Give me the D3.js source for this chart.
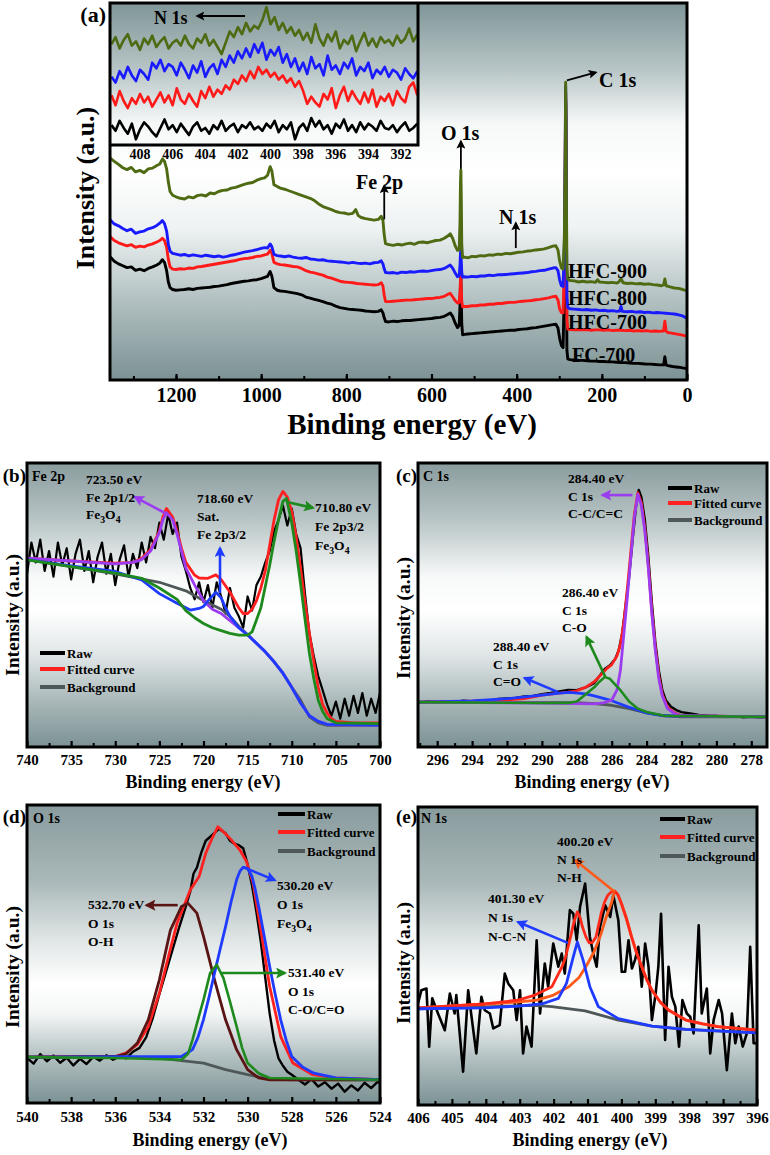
<!DOCTYPE html>
<html><head><meta charset="utf-8">
<script src="https://cdn.jsdelivr.net/npm/d3@7"></script>
<style>
body{margin:0;background:#fff}
svg{display:block}
text{font-family:"Liberation Serif","Times New Roman",serif;font-weight:bold;fill:#000}
</style></head>
<body><svg id="chart" width="770" height="1155"></svg>
<script>
// ---------------- DATA ----------------
// Panel (a) survey spectra: [binding energy eV, intensity a.u.]
const surveyHFC900 = [[1356,59.0],[1345,58.0],[1335,57.2],[1325,56.3],[1315,55.8],[1305,56.4],[1295,55.2],[1285,55.6],[1275,55.0],[1265,56.0],[1255,56.2],[1245,56.9],[1238,57.3],[1232,58.6],[1227,58.0],[1222,56.0],[1218,52.5],[1214,50.0],[1208,49.0],[1200,48.6],[1190,48.2],[1180,48.0],[1170,48.6],[1160,48.3],[1150,48.9],[1140,49.1],[1130,48.8],[1120,49.6],[1110,49.4],[1100,50.0],[1090,50.3],[1080,50.4],[1070,50.9],[1060,51.1],[1050,51.5],[1040,51.9],[1030,52.2],[1020,52.4],[1010,53.0],[1000,53.4],[992,53.6],[985,54.3],[979,56.6],[975,55.5],[970,51.8],[962,51.3],[955,50.9],[945,50.6],[935,50.2],[925,49.8],[915,49.4],[905,49.0],[895,48.6],[885,48.2],[875,47.6],[865,46.7],[855,46.0],[845,45.6],[835,45.2],[825,44.7],[815,44.4],[805,44.3],[795,44.0],[785,44.2],[778,45.2],[772,43.6],[765,43.1],[755,42.8],[745,42.6],[735,42.4],[725,42.6],[718,43.4],[714,42.3],[711,38.5],[708,36.2],[700,35.9],[690,35.7],[680,36.0],[670,35.8],[660,36.1],[650,36.3],[640,36.0],[630,36.5],[620,36.6],[610,36.4],[600,36.7],[590,37.0],[580,37.1],[570,37.6],[562,38.2],[556,38.8],[550,37.5],[544,35.5],[539,34.4],[535,34.6],[533,42.0],[532,52.0],[531,55.7],[530,48.0],[529,36.0],[527,32.5],[522,32.6],[515,32.4],[505,32.8],[495,32.7],[485,33.0],[475,32.9],[465,33.2],[455,33.1],[445,33.4],[435,33.3],[425,33.6],[415,33.5],[405,33.7],[395,33.9],[385,34.0],[375,34.2],[365,34.3],[355,34.5],[345,34.6],[335,34.8],[325,35.1],[315,35.5],[308,35.6],[303,34.5],[299,31.5],[295,29.8],[291,29.4],[288,38.0],[286,62.0],[285,79.0],[284,72.0],[283,45.0],[282,30.0],[280,26.8],[275,26.4],[265,26.3],[255,26.0],[245,26.2],[235,26.0],[225,26.1],[215,25.9],[210,26.6],[206,26.0],[195,25.9],[185,25.8],[175,25.9],[165,25.7],[160,26.0],[155,26.9],[150,25.8],[140,25.6],[130,25.7],[120,25.5],[110,25.6],[100,25.4],[90,25.5],[80,25.3],[70,25.2],[60,25.0],[55,25.2],[52,26.8],[49,25.0],[40,24.7],[30,24.4],[20,24.3],[10,24.0],[4,23.8],[0,23.7]];
const surveyHFC800 = [[1356,42.6],[1345,41.4],[1335,40.9],[1325,40.2],[1315,39.6],[1305,40.0],[1295,38.9],[1285,39.3],[1275,39.5],[1265,40.1],[1255,40.4],[1245,41.0],[1238,41.6],[1232,42.3],[1227,41.5],[1222,39.5],[1218,36.0],[1214,34.2],[1208,33.6],[1200,33.4],[1190,33.1],[1180,33.3],[1170,32.9],[1160,33.2],[1150,33.0],[1140,32.8],[1130,33.1],[1120,32.9],[1110,32.7],[1100,32.9],[1090,32.6],[1080,32.8],[1070,33.1],[1060,33.3],[1050,33.6],[1040,33.9],[1030,34.1],[1020,34.3],[1010,34.6],[1000,34.9],[992,35.1],[985,35.0],[979,36.1],[975,35.4],[970,33.3],[962,33.0],[955,32.9],[945,32.7],[935,32.9],[925,32.6],[915,32.4],[905,32.3],[895,32.5],[885,32.1],[875,32.0],[865,31.8],[855,31.9],[845,31.6],[835,31.5],[825,31.4],[815,31.3],[805,31.2],[795,31.0],[785,31.2],[775,31.0],[765,30.9],[755,31.0],[745,30.8],[735,31.1],[725,31.2],[718,31.6],[714,30.8],[711,29.5],[708,28.5],[700,28.4],[690,28.5],[680,28.3],[670,28.6],[660,28.5],[650,28.7],[640,28.6],[630,28.8],[620,28.9],[610,28.8],[600,29.0],[590,29.2],[580,29.3],[570,29.6],[562,30.1],[556,30.5],[550,29.6],[544,28.3],[539,27.4],[535,27.6],[533,30.5],[532,33.5],[531,34.6],[530,31.5],[529,28.5],[527,27.3],[522,27.4],[515,27.3],[505,27.5],[495,27.4],[485,27.6],[475,27.6],[465,27.8],[455,27.7],[445,27.9],[435,27.9],[425,28.0],[415,28.1],[405,28.2],[395,28.3],[385,28.4],[375,28.5],[365,28.7],[355,28.8],[345,29.0],[335,29.1],[325,29.4],[315,29.7],[308,29.8],[303,29.0],[299,26.5],[295,25.0],[291,24.8],[288,35.0],[286,60.0],[285,78.0],[284,70.0],[283,38.0],[282,22.0],[280,19.2],[275,18.9],[265,18.8],[255,18.7],[245,18.6],[235,18.7],[225,18.5],[215,18.6],[205,18.4],[195,18.5],[185,18.3],[175,18.4],[165,18.2],[158,18.3],[155,19.5],[152,18.2],[140,18.1],[130,18.2],[120,18.0],[110,18.1],[100,17.9],[90,18.0],[80,17.8],[70,17.9],[60,17.8],[50,17.7],[40,17.6],[30,17.5],[20,17.3],[10,17.0],[4,16.6],[0,16.4]];
const surveyHFC700 = [[1356,38.2],[1345,37.0],[1335,36.4],[1325,36.0],[1315,35.6],[1305,35.9],[1295,35.2],[1285,35.5],[1275,35.3],[1265,35.8],[1255,36.1],[1245,36.6],[1238,37.0],[1232,37.6],[1227,37.0],[1222,35.2],[1218,32.0],[1214,30.0],[1208,29.4],[1200,29.3],[1190,29.5],[1180,29.4],[1170,29.7],[1160,29.6],[1150,30.0],[1140,30.1],[1130,30.3],[1120,30.5],[1110,30.7],[1100,30.9],[1090,31.1],[1080,31.3],[1070,31.5],[1060,31.7],[1050,32.0],[1040,32.2],[1030,32.3],[1020,32.5],[1010,32.8],[1000,32.9],[992,33.2],[985,33.4],[979,34.4],[975,33.6],[970,31.2],[962,30.8],[955,30.6],[945,30.5],[935,30.3],[925,30.1],[915,30.0],[905,29.6],[895,29.0],[885,28.6],[875,28.4],[865,28.1],[855,27.8],[845,27.3],[835,27.0],[825,26.6],[815,26.2],[805,26.0],[795,25.9],[785,25.8],[775,25.6],[765,25.5],[755,25.4],[745,25.3],[735,25.2],[725,25.3],[718,25.8],[714,24.9],[711,22.5],[708,20.8],[700,20.8],[690,20.9],[680,21.0],[670,21.1],[660,21.2],[650,21.2],[640,21.3],[630,21.4],[620,21.5],[610,21.6],[600,21.6],[590,21.8],[580,21.9],[570,22.2],[562,22.7],[556,23.0],[550,22.0],[544,21.0],[539,20.4],[535,20.6],[533,23.5],[532,26.5],[531,27.6],[530,24.0],[529,21.0],[527,19.4],[522,19.5],[515,19.5],[505,19.7],[495,19.7],[485,19.9],[475,19.9],[465,20.1],[455,20.1],[445,20.3],[435,20.3],[425,20.5],[415,20.6],[405,20.6],[395,20.8],[385,20.9],[375,21.0],[365,21.1],[355,21.3],[345,21.4],[335,21.6],[325,21.8],[315,22.1],[308,22.2],[303,21.2],[299,18.8],[295,17.9],[291,17.8],[288,30.0],[286,55.0],[285,76.0],[284,66.0],[283,32.0],[282,16.0],[280,13.5],[275,13.4],[265,13.3],[255,13.4],[245,13.3],[235,13.4],[225,13.2],[215,13.3],[205,13.3],[195,13.2],[185,13.3],[175,13.1],[165,13.2],[155,13.2],[145,13.1],[135,13.2],[125,13.0],[115,13.1],[105,13.0],[95,13.1],[85,12.9],[75,13.0],[65,12.9],[58,13.0],[55,13.0],[52,15.6],[49,12.9],[45,12.6],[40,12.5],[30,12.3],[20,12.1],[10,11.9],[4,11.7],[0,11.6]];
const surveyFC700 = [[1356,32.8],[1345,31.5],[1335,30.8],[1325,30.3],[1315,29.8],[1305,30.0],[1295,29.1],[1285,29.4],[1275,29.0],[1265,29.6],[1255,30.0],[1245,30.5],[1238,31.0],[1232,31.9],[1227,31.2],[1222,29.0],[1218,26.0],[1214,24.5],[1208,24.0],[1200,23.8],[1190,23.9],[1180,24.0],[1170,24.2],[1160,24.0],[1150,24.3],[1140,24.4],[1130,24.5],[1120,24.6],[1110,24.8],[1100,24.9],[1090,25.1],[1080,25.3],[1070,25.6],[1060,25.8],[1050,26.0],[1040,26.2],[1030,26.3],[1020,26.5],[1010,26.6],[1000,26.9],[992,27.2],[985,27.5],[979,28.8],[975,27.6],[970,24.5],[962,23.8],[955,23.6],[945,23.5],[935,23.3],[925,23.1],[915,22.9],[905,22.6],[895,22.0],[885,21.7],[875,21.4],[865,21.1],[855,20.8],[845,20.4],[835,20.1],[825,19.6],[815,19.2],[805,19.0],[795,18.8],[785,18.7],[775,18.6],[765,18.5],[755,18.3],[745,18.2],[735,18.1],[725,18.2],[718,18.6],[714,17.8],[711,16.5],[708,15.5],[700,15.4],[690,15.6],[680,15.5],[670,15.7],[660,15.8],[650,15.8],[640,15.9],[630,16.0],[620,16.1],[610,16.2],[600,16.3],[590,16.5],[580,16.6],[570,16.9],[562,17.4],[556,17.8],[550,16.8],[544,15.0],[539,13.9],[535,14.5],[533,20.0],[532,25.0],[531,27.3],[530,22.0],[529,15.0],[527,12.0],[522,12.1],[515,12.2],[505,12.3],[495,12.4],[485,12.5],[475,12.6],[465,12.7],[455,12.8],[445,12.9],[435,13.0],[425,13.1],[415,13.2],[405,13.2],[395,13.4],[385,13.5],[375,13.6],[365,13.8],[355,13.9],[345,14.1],[335,14.3],[325,14.5],[315,14.7],[308,14.8],[303,13.8],[299,11.0],[295,9.2],[291,8.6],[288,25.0],[286,50.0],[285,74.0],[284,60.0],[283,26.0],[282,8.0],[280,5.6],[275,5.4],[265,5.3],[255,5.2],[245,5.2],[235,5.1],[225,5.0],[215,5.0],[205,4.9],[195,4.9],[185,4.8],[175,4.8],[165,4.7],[155,4.6],[145,4.6],[135,4.5],[125,4.4],[115,4.4],[105,4.3],[95,4.2],[85,4.2],[75,4.1],[65,4.0],[58,4.0],[55,4.0],[52,6.2],[49,4.0],[45,3.8],[40,3.7],[30,3.5],[20,3.4],[10,3.2],[4,3.1],[0,3.0]];
const surveySeriesNames = ["FC-700","HFC-700","HFC-800","HFC-900"];
const surveyTicks = [1200,1000,800,600,400,200,0];

// Inset N 1s (sampling every 0.25 eV from 409.75 to 391.0)
const insetStartEV = 409.75, insetStepEV = 0.25;
const insetHFC900 = [71,76,68,74,78,70,73,67,75,71,77,69,73,76,68,72, 74,70,77,71,68,75,72,78,70,74,69, 64,72,80,76,83,78,86,80,84, 82,88,97,85,90,81,86,79, 83,77,81,74,79,72,85,75,70,78,73,80, 68,74,71,77,66,73,79,70,75,69,76,72, 74,70,77,72,75,82,73,78];
const insetHFC800 = [48,44,52,47,55,49,45,53,50,46,58,54,60,52,57,55, 49,58,53,47,56,51,59,48,54,57,50, 60,55,63,58,66,61,68,62,71, 65,72,60,67,63,69,58,64, 55,61,52,58,50,62,54,57,49,63,53,56, 50,58,54,61,49,55,52,58,47,53,50,55, 48,53,51,46,54,50,47,52];
const insetHFC700 = [35,28,38,31,26,33,29,36,30,34,27,32,37,30,35,28, 40,32,29,36,31,27,38,33,41,34,39, 36,42,39,46,43,49,45,52,47, 55,50,53,48,51,46,49,44, 47,41,45,38,29,34,30,27,36,32,40,26, 35,41,31,38,33,29,37,30,39,27,34,31, 36,28,38,33,30,41,44,35];
const insetFC700 = [14,10,17,12,8,15,4,11,16,13,9,6,12,18,11,14, 9,15,11,7,13,16,10,12,8,14,11, 17,10,13,15,9,14,12,16,11, 13,10,15,12,17,9,14,11, 16,4,12,15,10,19,13,17,11,14,8,15, 12,18,10,14,9,16,11,15,13,10,17,12, 11,14,9,13,16,10,12,15];
const insetTicks = [408,406,404,402,400,398,396,394,392];

// Panel (b) Fe 2p
const feRaw = [[740,61],[739.5,72],[739,65],[738.5,73],[738,62],[737.5,69],[737,60],[736.5,72],[736,64],[735.5,70],[735,59],[734.5,68],[734,73],[733.5,62],[733,69],[732.5,58],[732,67],[731.5,72],[731,61],[730.5,68],[730,57],[729.5,66],[729,71],[728.5,60],[728,68],[727.5,63],[727,72],[726.5,65],[726,74],[725.5,70],[725,79],[724.5,73],[724,82],[723.5,75],[723,79],[722.5,67],[722,62],[721.5,56],[721,52],[720.5,58],[720,51],[719.5,57],[719,49],[718.5,58],[718,53],[717.5,47],[717,56],[716.5,49],[716,46],[715.5,42],[715,53],[714.5,48],[714,57],[713.5,60],[713,65],[712.5,69],[712,76],[711.5,80],[711,85],[710.5,78],[710,84],[709.5,75],[709,70],[708.5,54],[708,40],[707.5,32],[707,25],[706.5,20],[706,15],[705.5,11],[705,16],[704.5,10],[704,17],[703.5,11],[703,18],[702.5,12],[702,19],[701.5,11],[701,17],[700.5,12],[700,19]];
const feFit = [[740,66.5],[735,65.5],[730,64.7],[728,65],[727,66.5],[726,69.5],[725,76],[724.6,81],[724.2,84],[723.5,81],[723,76],[722.5,70],[722,65],[721,60.5],[720.5,59.5],[719.5,59.4],[718.6,60.6],[718,59],[717,54.5],[716,49],[715.5,47],[715,47],[714.5,48.5],[714,51.5],[713.5,56],[713,62],[712.5,71],[712,80],[711.5,87],[711,90],[710.5,88],[710,83],[709.5,74],[709,63],[708.5,51],[708,40],[707.5,30],[707,21],[706.5,15],[706,12],[705.5,10],[705,9],[703,8.5],[700,8.5]];
const feBg = [[740,66],[735,63.5],[730,61],[725,58],[722,55],[720,51.6],[718,48.5],[717,46],[716,42.5],[715,39.5],[714,36.5],[713,33.5],[712,30],[711,26],[710,21],[709,16.5],[708,10.6],[707,8.5],[706,7.6],[700,7.6]];
const fe2p12 = [[740,66.5],[735,65.5],[730,64.5],[728,65],[727,66],[726,69],[725,75.5],[724.6,80],[724.2,82.5],[723.5,80],[723,75],[722.5,69],[722,63],[721,57],[720,51.5],[719,48.5],[718,47],[717,44.5],[716,42],[715,39.5],[714,36.5],[713,33.5],[712,30],[711,26],[710,21],[709,15.5],[708,11],[707,9],[706,8],[705,7.8],[700,7.7]];
const feSat = [[740,66],[735,63.8],[730,61.8],[727,58.8],[725,54],[723,50.6],[722,49],[721.5,48.2],[720.5,48.8],[720,49.5],[719.2,52.5],[718.6,54.5],[718,52.5],[717.5,49],[717,46],[716,42],[715,39.5],[714,36.5],[713,33.5],[712,30],[711,26],[710,21],[709,15.5],[708,11],[707,9],[706,8],[700,7.7]];
const fe2p32 = [[740,65.9],[735,63.5],[730,61.2],[727,59.4],[725,56],[723,52],[722,48],[721,45.5],[720,43.5],[719,42],[718,41],[717,40],[716,39.4],[715,39.4],[714.5,40.5],[714,44.7],[713.5,49],[713,56.5],[712.5,64],[712,72.5],[711.5,80],[711,86.5],[710.6,87.5],[710,79],[709.5,69],[709,57.5],[708.5,45],[708,33],[707.5,24],[707,16.5],[706.5,12.5],[706,10],[705,8.5],[700,8.2]];
const feTicks = [740,735,730,725,720,715,710,705,700];

// Panel (c) C 1s
const cRaw = [[297.1,15.6],[296.5,16.0],[296,15.7],[295.5,16.1],[295,15.8],[294.5,16.3],[294,16.0],[293.5,16.5],[293,16.3],[292.5,16.9],[292,17.1],[291.5,17.3],[291,17.8],[290.5,18.0],[290,18.6],[289.5,19.0],[289,19.6],[288.5,20.1],[288,20.0],[287.5,21.0],[287,22.5],[286.7,25],[286.4,27.5],[286.1,28.8],[285.8,31],[285.6,34],[285.4,40],[285.2,50],[285,60],[284.8,73],[284.6,85],[284.45,90.5],[284.3,88],[284.1,80],[283.9,67],[283.7,51],[283.5,37],[283.3,27],[283.1,20],[282.9,16.5],[282.6,14.2],[282.3,13],[282,12.3],[281.5,11.8],[281,11.3],[280.5,11.0],[280,10.9],[279.5,10.6],[279,10.8],[278.5,10.5],[278,10.7],[277.5,10.5],[277.1,10.6]];
const cFit = [[297.1,15.8],[293,16.2],[291,17],[290,18.3],[289,19],[288.5,19.3],[288,19.8],[287.5,21],[287,23],[286.6,25.5],[286.3,27.5],[286,29],[285.7,32],[285.5,36],[285.3,44],[285.1,56],[284.9,69],[284.7,82],[284.5,89.5],[284.3,86],[284.1,77],[283.9,64],[283.7,48],[283.5,35],[283.3,25],[283.1,18.5],[282.8,14],[282.4,12],[282,11],[277.1,10.6]];
const cBg = [[297.1,15.8],[288,15.6],[287,15.3],[286,14.7],[285,13.5],[284,12],[283,11],[282,10.6],[277.1,10.6]];
const cCC = [[297.1,15.8],[290,15.5],[288,15.3],[287,15.2],[286.5,15.5],[286,16.5],[285.7,20],[285.5,27],[285.3,40],[285.1,53],[284.9,67],[284.7,81],[284.5,89],[284.3,85],[284.1,76],[283.9,63],[283.7,47],[283.5,34],[283.3,24],[283.1,18],[282.8,13.5],[282.4,11.8],[282,11],[277.1,10.6]];
const cCO = [[297.1,15.8],[290,15.5],[288.5,15.5],[288,16],[287.5,18.5],[287,21],[286.7,23],[286.4,24.6],[286.1,24],[285.8,22],[285.5,20],[285,16],[284.5,13.5],[284,12.3],[283,11],[277.1,10.6]];
const cCdO = [[297.1,15.8],[294,16.2],[292,17],[290,18.3],[289,19],[288.4,19.2],[287.5,18.7],[287,18],[286,16.3],[285,14],[284,12],[283,11],[277.1,10.6]];
const cTicks = [296,294,292,290,288,286,284,282,280,278];

// Panel (d) O 1s
const oRaw = [[540,15.1],[539.7,13.2],[539.4,16.4],[539.1,14.0],[538.8,15.9],[538.5,13.5],[538.2,15.2],[537.9,12.6],[537.6,14.8],[537.3,13.1],[537,15.5],[536.7,14.2],[536.4,16.0],[536.1,14.5],[535.8,15.6],[535.5,15.0],[535.2,17.2],[534.9,18.5],[534.6,22.0],[534.3,28.5],[534,36.5],[533.7,44],[533.4,51.5],[533.1,59],[532.8,66],[532.6,71],[532.45,77],[532.3,79],[532.1,84],[531.9,88],[531.6,90],[531.3,92],[531.0,90.5],[530.8,88],[530.6,87],[530.4,86.5],[530.2,85.5],[530.0,80],[529.8,73],[529.6,64],[529.4,54],[529.2,42],[529,30],[528.8,21],[528.6,15],[528.4,12.5],[528.2,10.5],[528,9.5],[527.7,7.8],[527.4,6.2],[527.1,8.0],[526.8,5.5],[526.5,7.0],[526.2,4.8],[525.9,6.5],[525.6,3.8],[525.3,5.9],[525.0,4.2],[524.7,6.8],[524.4,5.0],[524.1,7.2],[524,6.5]];
const oFit = [[540,15.4],[536,15.6],[535.5,16.8],[535,19.6],[534.5,25.7],[534,36.9],[533.55,50.3],[533.2,60.3],[532.6,71.5],[532.2,76],[531.9,83.8],[531.6,89],[531.35,92.7],[531.1,91],[530.8,88.8],[530.35,84.9],[530.05,81],[529.75,73.7],[529.45,60.3],[529,39.1],[528.5,22.3],[527.95,13.4],[527.05,9.5],[526,8.4],[524,7.8]];
const oBg = [[540,15.4],[536,15.4],[534,15.1],[533,14.2],[532,13.4],[531,11.2],[530,9.5],[529,8],[528,7.8],[524,7.8]];
const oFe3O4 = [[540,15.4],[533,15.6],[532.5,17.9],[532.25,22],[532,28],[531.75,35.5],[531.5,43.6],[531.25,51.5],[531,59.2],[530.75,67.5],[530.5,74.9],[530.35,77.8],[530.2,79.1],[530.0,78.7],[529.8,76],[529.65,71.5],[529.5,66],[529.25,56],[529,45.8],[528.75,36.5],[528.5,27.9],[528.25,21],[528,15.6],[527.5,12],[527,10],[526,8.4],[524,7.8]];
const oCO = [[540,15.4],[536,15.1],[533,14.5],[532.7,16.5],[532.5,21.2],[532.25,28],[532,34.6],[531.7,43.6],[531.4,46.4],[531.1,42],[530.8,34],[530.5,25.7],[530.25,18.5],[530,13.4],[529.5,10],[529,8.4],[524,7.8]];
const oOH = [[540,15.4],[536,15.6],[535.5,16.5],[535,20.1],[534.5,28],[534,41.3],[533.5,58],[533,65.9],[532.7,67],[532.3,63.7],[532,55.9],[531.5,41.3],[531,27.9],[530.5,17.9],[530,11.2],[529.5,8.4],[529,7.8],[524,7.8]];
const oTicks = [540,538,536,534,532,530,528,526,524];

// Panel (e) N 1s
const nRaw = [[406.0,34.1],[405.9,38.5],[405.75,39.1],[405.67,19.6],[405.58,35.8],[405.41,30.7],[405.21,25.1],[405.06,37.4],[404.92,30.7],[404.87,36.9],[404.67,11.2],[404.52,38.5],[404.37,25.1],[404.28,17.3],[404.13,36.3],[404.03,31.8],[403.88,30.7],[403.78,25.7],[403.59,26.8],[403.44,44.1],[403.34,40.8],[403.19,38.5],[403.09,28.5],[402.99,38.5],[402.9,17.3],[402.8,26.3],[402.65,19.6],[402.5,55.3],[402.4,30.7],[402.26,47.5],[402.16,39.7],[402.01,54.2],[401.86,46.4],[401.76,50.8],[401.67,44.1],[401.52,65.4],[401.42,64.2],[401.32,55.3],[401.22,66.5],[401.07,74.3],[400.93,56.4],[400.83,50.8],[400.73,46.4],[400.63,59.8],[400.48,67.0],[400.33,63.1],[400.24,70.4],[400.09,62.0],[399.99,44.7],[399.89,44.7],[399.79,55.3],[399.69,45.8],[399.6,48.6],[399.5,53.1],[399.4,39.7],[399.3,54.2],[399.2,46.4],[399.1,28.5],[398.99,37.4],[398.91,46.4],[398.83,64.2],[398.71,21.8],[398.61,46.4],[398.51,36.3],[398.41,33.0],[398.3,19.6],[398.2,35.2],[398.07,30.7],[397.97,29.6],[397.87,24.0],[397.72,60.3],[397.63,30.7],[397.48,39.1],[397.38,17.3],[397.28,28.5],[397.13,35.2],[397.03,30.7],[396.89,11.7],[396.74,30.7],[396.64,20.7],[396.54,26.3],[396.42,19.6],[396.3,24.0],[396.2,53.1],[396.1,20.7],[395.97,20.7]];
const nFit = [[406,32.6],[404.03,33.9],[403.05,35.2],[402.55,36.9],[402.05,39.7],[401.75,46.4],[401.65,49.5],[401.5,56.4],[401.4,61.5],[401.3,64.8],[401.22,63],[401.15,59.8],[401.05,56.5],[400.95,54.4],[400.85,54.6],[400.75,56.4],[400.6,64.2],[400.5,68],[400.4,70.4],[400.3,71.5],[400.2,71.8],[400.1,70.5],[400.0,67.6],[399.85,62.5],[399.7,56.4],[399.55,51],[399.4,46.4],[399.25,42],[399.1,38.5],[398.85,34.5],[398.6,31.8],[398.1,28.5],[397.6,27.2],[397.15,26.3],[396,25.1]];
const nNH = [[406,32.6],[404,33.9],[403,34.6],[402.5,35.2],[402,36.9],[401.55,39.7],[401.25,42.8],[401.05,46.4],[400.8,51.5],[400.6,57.5],[400.45,63],[400.3,67.6],[400.2,71.8],[400.1,70.5],[400.0,67.6],[399.85,62.5],[399.7,56.4],[399.55,51],[399.4,46.4],[399.25,42],[399.1,38.5],[398.85,34.5],[398.6,31.8],[398.1,28.5],[397.6,27.2],[397.15,26.3],[396,25.1]];
const nNCN = [[406,32.3],[404.03,32.6],[403.05,33.2],[402.35,33.9],[401.86,35.8],[401.62,40.8],[401.42,49.7],[401.3,54.7],[401.13,48.6],[400.93,39.7],[400.68,33.0],[400.09,29.0],[399.1,26.5],[398.1,25.4],[396,24.2]];
const nBg = [[406,32.3],[402.55,33.4],[402.05,33.0],[401.07,31.6],[400.09,28.5],[399.1,26.5],[398.1,25.4],[396,24.2]];
const nTicks = [406,405,404,403,402,401,400,399,398,397,396];

const legendLabels = ["Raw","Fitted curve","Background"];

// ---------------- DRAWING ----------------
const svg = d3.select("#chart");
const defs = svg.append("defs");

function gradient(id, stops){
  const g = defs.append("linearGradient").attr("id", id).attr("x1",0).attr("y1",0).attr("x2",0).attr("y2",1);
  stops.forEach(s => g.append("stop").attr("offset", s[0]).attr("stop-color", s[1]));
}
function marker(id, color, w, h){
  defs.append("marker").attr("id", id).attr("viewBox","0 0 10 10").attr("refX",8).attr("refY",5)
    .attr("markerWidth", w).attr("markerHeight", h).attr("markerUnits","userSpaceOnUse").attr("orient","auto")
    .append("path").attr("d","M0,0L10,5L0,10L2,5z").attr("fill", color);
}
marker("m-black","#000",11,9);
marker("m-purple","#9b3cf0",13,11);
marker("m-blue","#1f3bff",13,11);
marker("m-green","#1e8a1e",13,11);
marker("m-brown","#5a1414",13,11);
marker("m-orange","#ff5a1a",13,11);

function panel(cfg){
  const x = d3.scaleLinear().domain(cfg.xDomain).range([cfg.left, cfg.right]);
  const y = d3.scaleLinear().domain([0,100]).range([cfg.bottom, cfg.top]);
  gradient("g-"+cfg.id, cfg.stops);
  svg.append("rect").attr("x",cfg.left).attr("y",cfg.top).attr("width",cfg.right-cfg.left).attr("height",cfg.bottom-cfg.top)
    .attr("fill","url(#g-"+cfg.id+")");
  defs.append("clipPath").attr("id","c-"+cfg.id).append("rect")
    .attr("x",cfg.left).attr("y",cfg.top).attr("width",cfg.right-cfg.left).attr("height",cfg.bottom-cfg.top);
  const plot = svg.append("g").attr("clip-path","url(#c-"+cfg.id+")");
  const line = d3.line().x(d=>x(d[0])).y(d=>y(d[1]));
  return {x, y, plot, line, cfg};
}
function axes(P, major, minor, fs, pad){
  const c = P.cfg;
  const gMinor = svg.append("g").attr("transform",`translate(0,${c.bottom})`)
    .call(d3.axisBottom(P.x).tickValues(minor).tickSize(-4).tickFormat(""));
  gMinor.select(".domain").remove();
  gMinor.selectAll("line").attr("stroke","#000").attr("stroke-width",2);
  const gMajor = svg.append("g").attr("transform",`translate(0,${c.bottom})`)
    .call(d3.axisBottom(P.x).tickValues(major).tickSize(-6).tickPadding(pad).tickFormat(d3.format("d")));
  gMajor.select(".domain").remove();
  gMajor.selectAll("line").attr("stroke","#000").attr("stroke-width",2.2);
  gMajor.selectAll("text").attr("font-size",fs).attr("font-family",'"Liberation Serif","Times New Roman",serif').attr("font-weight","bold").attr("fill","#000");
}
function frame(P){
  const c = P.cfg;
  svg.append("rect").attr("x",c.left).attr("y",c.top).attr("width",c.right-c.left).attr("height",c.bottom-c.top)
    .attr("fill","none").attr("stroke","#000").attr("stroke-width",3);
}
function curve(P, data, color, w){
  P.plot.append("path").datum(data).attr("d",P.line).attr("fill","none").attr("stroke",color)
    .attr("stroke-width",w).attr("stroke-linejoin","round");
}
function arrow(P, a, b, color, mk, w){
  svg.append("line").attr("x1",P.x(a[0])).attr("y1",P.y(a[1])).attr("x2",P.x(b[0])).attr("y2",P.y(b[1]))
    .attr("stroke",color).attr("stroke-width",w).attr("marker-end","url(#"+mk+")");
}
function label(x, y, str, fs, anchor){
  const t = svg.append("text").attr("x",x).attr("y",y).attr("font-size",fs).attr("text-anchor",anchor||"start");
  const parts = str.split(/(_\d)/).filter(s=>s.length);
  let sub = false;
  parts.forEach(p=>{
    if(p[0]==="_"){ t.append("tspan").attr("dy",fs*0.3).attr("font-size",fs*0.72).text(p.slice(1)); sub = true; }
    else { const ts = t.append("tspan").text(p); if(sub){ ts.attr("dy",-fs*0.3); sub=false; } }
  });
  return t;
}
function block(x, y, lines, fs, lh){
  lines.forEach((s,i)=>label(x, y+i*lh, s, fs));
}
function ytitle(x, y, str, fs){
  svg.append("text").attr("transform",`translate(${x},${y}) rotate(-90)`).attr("text-anchor","middle")
    .attr("dominant-baseline","central").attr("font-size",fs).text(str);
}
function legend(x1, x2, ys, fs){
  const colors = ["#000","#ff2020","#4f5859"];
  legendLabels.forEach((l,i)=>{
    svg.append("line").attr("x1",x1).attr("x2",x2).attr("y1",ys[i]).attr("y2",ys[i]).attr("stroke",colors[i]).attr("stroke-width",4);
    label(x2+2, ys[i]+4.5, l, fs);
  });
}

const grayTop = "#7f9597", grayBot = "#7c9294";

// ---------- Panel (a) ----------
const A = panel({id:"a", left:110, right:687, top:3, bottom:380, xDomain:[1355,0],
  stops:[[0,grayTop],[0.18,"#b9c6c7"],[0.32,"#f6f8f8"],[0.45,"#ffffff"],[0.6,"#eef2f2"],[0.78,"#b4c2c3"],[1,grayBot]]});
const surveyColors = ["#000000","#ff1a1a","#1a1aff","#4e6a12"];
[surveyFC700, surveyHFC700, surveyHFC800, surveyHFC900].forEach((s,i)=>curve(A, s, surveyColors[i], 2.9));
axes(A, surveyTicks, d3.range(1300,0,-100), 20, 8);

// inset
const insetEV = insetHFC900.map((_,i)=> insetStartEV - i*insetStepEV);
const I = {x: d3.scaleLinear().domain([409.84,390.96]).range([110,418]),
           y: d3.scaleLinear().domain([0,100]).range([145,3])};
const iLine = d3.line().x((d,i)=>I.x(insetEV[i])).y(d=>I.y(d));
defs.append("clipPath").attr("id","c-inset").append("rect").attr("x",110).attr("y",3).attr("width",308).attr("height",142);
const ig = svg.append("g").attr("clip-path","url(#c-inset)");
[insetFC700, insetHFC700, insetHFC800, insetHFC900].forEach((s,i)=>{
  ig.append("path").datum(s).attr("d",iLine).attr("fill","none").attr("stroke",surveyColors[i]).attr("stroke-width",2.6).attr("stroke-linejoin","round");
});
svg.append("path").attr("d",`M${I.x.range()[1]},3V${I.y(0)}H110`).attr("fill","none").attr("stroke","#000").attr("stroke-width",3);
insetTicks.forEach(t=>label(I.x(t), 159, String(t), 14, "middle"));
label(154, 24, "N 1s", 18);
svg.append("line").attr("x1",I.x(401.56)).attr("y1",16).attr("x2",I.x(404.5)).attr("y2",16)
  .attr("stroke","#000").attr("stroke-width",1.8).attr("marker-end","url(#m-black)");

frame(A);
// annotations (a)
arrow(A,[711,42.6],[711,51.5],"#000","m-black",1.8);
arrow(A,[531,56],[531,63.3],"#000","m-black",1.8);
arrow(A,[402,35],[402,41.6],"#000","m-black",1.8);
arrow(A,[282,79.5],[214,81.6],"#000","m-black",1.8);
label(356,189,"Fe 2p",20);
label(441,140,"O 1s",20);
label(499,224,"N 1s",20);
label(599,87,"C 1s",20);
label(568,278,"HFC-900",20);
label(568,305,"HFC-800",20);
label(568,329,"HFC-700",20);
label(572,362,"FC-700",20);
label(106,22,"(a)",22,"end");
ytitle(85,188,"Intensity (a.u.)",26);
label(412,434,"Binding energy (eV)",29,"middle");

// ---------- Panel (b) ----------
const B = panel({id:"b", left:27, right:380, top:463, bottom:747, xDomain:[740,700],
  stops:[[0,"#8a9c9e"],[0.2,"#b8c4c5"],[0.4,"#f7f9f9"],[0.52,"#ffffff"],[0.68,"#dfe5e6"],[0.85,"#a6b5b6"],[1,grayBot]]});
curve(B, feRaw, "#000", 2.2);
curve(B, feBg, "#4f5859", 2.8);
curve(B, feFit, "#ff2020", 2.8);
curve(B, fe2p12, "#9b3cf0", 2.8);
curve(B, feSat, "#1f3bff", 2.8);
curve(B, fe2p32, "#1e8a1e", 2.8);
axes(B, feTicks, d3.range(737.5,700,-5), 15, 7.6);
frame(B);
arrow(B,[724.36,82.4],[727.76,88],"#9b3cf0","m-purple",2.6);
arrow(B,[718.13,54.2],[718.13,70],"#1f3bff","m-blue",2.6);
arrow(B,[710.54,86.3],[707.6,84.2],"#1e8a1e","m-green",2.6);
block(86,484,["723.50 eV","Fe 2p1/2","Fe_3O_4"],13.5,17.5);
block(197,503,["718.60 eV","Sat.","Fe 2p3/2"],13.5,18);
block(315,512,["710.80 eV","Fe 2p3/2","Fe_3O_4"],13.5,19);
legend(40,65,[653,669,687],13);
label(26,482,"(b)",19,"end");
label(32,481,"Fe 2p",14);
ytitle(12,615,"Intensity (a.u.)",19.5);
label(203,788,"Binding energy (eV)",18,"middle");

// ---------- Panel (c) ----------
const C = panel({id:"c", left:418, right:767, top:463, bottom:747, xDomain:[297.1,277.1],
  stops:[[0,"#8a9c9e"],[0.2,"#b8c4c5"],[0.4,"#f7f9f9"],[0.52,"#ffffff"],[0.68,"#dfe5e6"],[0.85,"#a6b5b6"],[1,grayBot]]});
curve(C, cRaw, "#000", 2.4);
curve(C, cBg, "#4f5859", 2.8);
curve(C, cFit, "#ff2020", 2.8);
curve(C, cCdO, "#1f3bff", 2.8);
curve(C, cCC, "#9b3cf0", 2.8);
curve(C, cCO, "#1e8a1e", 2.6);
axes(C, cTicks, d3.range(297,277,-2), 15, 7.6);
frame(C);
arrow(C,[284.81,88.7],[286.53,88.7],"#9b3cf0","m-purple",2.6);
arrow(C,[286.36,24.6],[287.44,38.7],"#1e8a1e","m-green",2.6);
arrow(C,[289.1,19.4],[290.99,24.3],"#1f3bff","m-blue",2.6);
block(568,483,["284.40 eV","C 1s","C-C/C=C"],13.5,17.5);
block(562,597,["286.40 eV","C 1s","C-O"],13.5,17.5);
block(493,651,["288.40 eV","C 1s","C=O"],13.5,17.5);
legend(668,692,[488,503,520],13);
label(417,482,"(c)",19,"end");
label(423,481,"C 1s",14);
ytitle(403,618,"Intensity (a.u.)",19.5);
label(592,788,"Binding energy (eV)",18,"middle");

// ---------- Panel (d) ----------
const D = panel({id:"d", left:27, right:380, top:805, bottom:1103, xDomain:[540,524],
  stops:[[0,"#889b9d"],[0.25,"#a9b7b8"],[0.45,"#dfe5e5"],[0.6,"#ffffff"],[0.7,"#f4f6f6"],[0.85,"#b0bebf"],[1,grayBot]]});
curve(D, oRaw, "#000", 2.4);
curve(D, oBg, "#4f5859", 2.8);
curve(D, oFit, "#ff2020", 2.8);
curve(D, oOH, "#5a1414", 2.8);
curve(D, oFe3O4, "#1f3bff", 2.8);
curve(D, oCO, "#1e8a1e", 2.6);
axes(D, oTicks, d3.range(539,524,-2), 15, 8.6);
frame(D);
arrow(D,[533.17,66.4],[534.58,66.4],"#5a1414","m-brown",2.6);
arrow(D,[530.22,79.2],[528.77,74.8],"#1f3bff","m-blue",2.6);
arrow(D,[531.18,43.6],[528.31,43.6],"#1e8a1e","m-green",2.6);
block(88,909,["532.70 eV","O 1s","O-H"],13.5,18.5);
block(277,890,["530.20 eV","O 1s","Fe_3O_4"],13.5,19);
block(288,977,["531.40 eV","O 1s","C-O/C=O"],13.5,18.5);
legend(278,305,[814,832,851],13);
label(26,823,"(d)",19,"end");
label(33,823,"O 1s",14);
ytitle(12,967,"Intensity (a.u.)",19.5);
label(210,1146,"Binding energy (eV)",18,"middle");

// ---------- Panel (e) ----------
const E = panel({id:"e", left:418, right:757, top:807, bottom:1105, xDomain:[406,396],
  stops:[[0,"#889b9d"],[0.25,"#a9b7b8"],[0.45,"#dfe5e5"],[0.6,"#ffffff"],[0.7,"#f4f6f6"],[0.85,"#b0bebf"],[1,grayBot]]});
curve(E, nRaw, "#000", 2.6);
curve(E, nBg, "#4f5859", 2.8);
curve(E, nNH, "#ff5a1a", 2.8);
curve(E, nFit, "#ff2a1a", 2.8);
curve(E, nNCN, "#1f3bff", 2.8);
axes(E, nTicks, d3.range(405.5,396,-1), 15, 7.6);
frame(E);
arrow(E,[400.19,71.5],[401.37,82.2],"#ff5a1a","m-orange",2.6);
arrow(E,[401.58,54.4],[403.05,61.4],"#1f3bff","m-blue",2.6);
block(557,846,["400.20 eV","N 1s","N-H"],13.5,18);
block(488,903,["401.30 eV","N 1s","N-C-N"],13.5,19);
legend(660,685,[819,837,856],13);
label(417,823,"(e)",19,"end");
label(421,823,"N 1s",14);
ytitle(403,963,"Intensity (a.u.)",19.5);
label(590,1146,"Binding energy (eV)",18,"middle");
</script></body></html>
